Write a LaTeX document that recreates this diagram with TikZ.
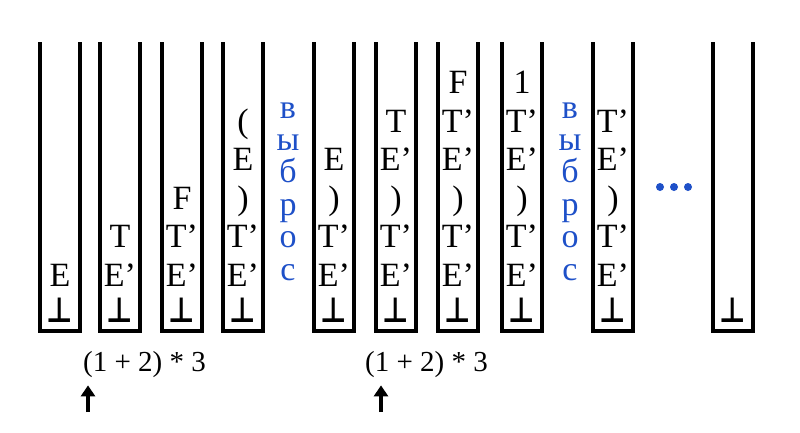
\documentclass[tikz,border=0pt]{standalone}
\usepackage{fontspec}
\setmainfont{Liberation Serif}
\newfontfamily\botfont{DejaVu Sans}
\usetikzlibrary{arrows.meta}
\definecolor{dropblue}{RGB}{30,80,200}
\tikzset{
  stack/.style={line width=3.8pt},
  cell/.style={anchor=base,inner sep=0pt,font=\fontsize{34}{38}\selectfont},
  stackbot/.style={anchor=base,inner sep=0pt,font=\botfont\bfseries\fontsize{34}{38}\selectfont},
  drop/.style={anchor=base,inner sep=0pt,text=dropblue,font=\fontsize{34}{38}\selectfont},
  inword/.style={anchor=base west,inner sep=0pt,font=\fontsize{29}{33}\selectfont},
  ptr/.style={line width=3.8pt,-{Triangle[width=14pt,length=11pt]}}
}

\begin{document}
\begin{tikzpicture}[x=1pt,y=-1pt]
  \useasboundingbox (0,0) rectangle (800,432);
  % stacks
  \foreach \n/\x in {a/40,b/100,c/162,d/223,e/314,f/376,g/438,h/502,i/593,j/713} {
    \draw[stack] (\x,42) -- (\x,331) -- (\x+40,331) -- (\x+40,42);
    \node[stackbot] (\n0) at (\x+20,322) {\scalebox{0.85}[1.02]{⊥}};
  }
  % contents, from the bottom up
  \node[cell] (a1) at (60,286) {E};
  \foreach \v [count=\k] in {E’,T}
    \node[cell] (b\k) at (120,324.5-38.5*\k) {\v};
  \foreach \v [count=\k] in {E’,T’,F}
    \node[cell] (c\k) at (182,324.5-38.5*\k) {\v};
  \foreach \v [count=\k] in {E’,T’,{)},E,{(}}
    \node[cell] (d\k) at (243,324.5-38.5*\k) {\v};
  \foreach \v [count=\k] in {E’,T’,{)},E}
    \node[cell] (e\k) at (334,324.5-38.5*\k) {\v};
  \foreach \v [count=\k] in {E’,T’,{)},E’,T}
    \node[cell] (f\k) at (396,324.5-38.5*\k) {\v};
  \foreach \v [count=\k] in {E’,T’,{)},E’,T’,F}
    \node[cell] (g\k) at (458,324.5-38.5*\k) {\v};
  \foreach \v [count=\k] in {E’,T’,{)},E’,T’,1}
    \node[cell] (h\k) at (522,324.5-38.5*\k) {\v};
  \foreach \v [count=\k] in {E’,T’,{)},E’,T’}
    \node[cell] (i\k) at (613,324.5-38.5*\k) {\v};

  % dropped symbols
  \foreach \v [count=\k] in {в,ы,б,р,о,с} {
    \node[drop] (dropa\k) at (288,85.6+32.4*\k) {\v};
    \node[drop] (dropb\k) at (570,85.6+32.4*\k) {\v};
  }
  \foreach \x in {660,674,688}
    \fill[dropblue] (\x,187) circle (4pt);

  % input and pointer
  \node[inword] (expa) at (83,371) {(1 + 2) * 3};
  \node[inword] (expb) at (365,371) {(1 + 2) * 3};
  \coordinate (ptra) at (88,412);
  \coordinate (ptrb) at (381,412);
  \draw[ptr,shorten >=8pt] (ptra) -- (ptra |- expa.south);
  \draw[ptr,shorten >=8pt] (ptrb) -- (ptrb |- expb.south);
\end{tikzpicture}
\end{document}
